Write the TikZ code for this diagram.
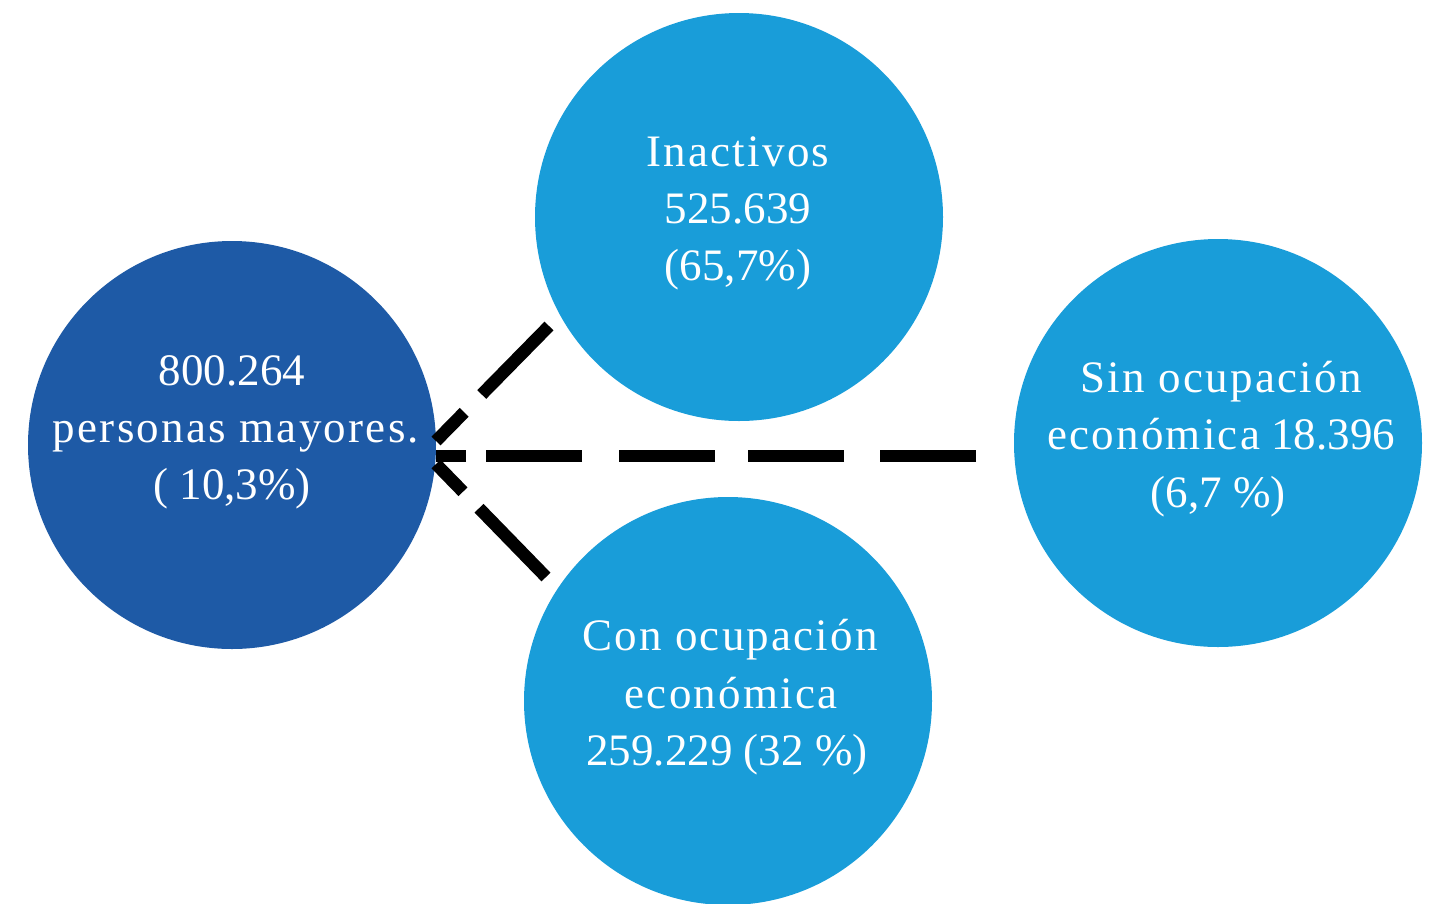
\documentclass[tikz,border=0pt]{standalone}
\usepackage{fontspec}
\setmainfont{Liberation Serif}
\newfontfamily\widefont[LetterSpace=5]{Liberation Serif}
\definecolor{darkblue}{HTML}{1E5AA6}
\definecolor{lightblue}{HTML}{199DD9}
\newcommand{\widetxt}[1]{{\widefont #1}}
\tikzset{
  bubble/.style={circle, minimum size=408pt, inner sep=0pt, draw=none},
  darkbubble/.style={bubble, fill=darkblue},
  lightbubble/.style={bubble, fill=lightblue},
  txt/.style={anchor=base, text=white, inner sep=0pt, font=\fontsize{45}{57}\selectfont},
  link/.style={line width=12.5pt, line cap=butt, black}
}
\begin{document}
\begin{tikzpicture}[x=1pt,y=-1pt]
\useasboundingbox (0,0) rectangle (1438,903);
% circles
\node[darkbubble]  (total) at (232,445) {};
\node[lightbubble] (inact) at (739,217) {};
\node[lightbubble] (sinoc) at (1218,443) {};
\node[lightbubble] (conoc) at (728,701) {};
% texts
\node[txt] (total1) at (232,385) {800.264};
\node[txt] (total2) at (236,442) {\widetxt{personas mayores.}};
\node[txt] (total3) at (232,499) {( 10,3\%)};
\node[txt] (inact1) at (738,166) {\widetxt{Inactivos}};
\node[txt] (inact2) at (738,223) {525.639};
\node[txt] (inact3) at (738,280) {(65,7\%)};
\node[txt] (sinoc1) at (1221,392) {\widetxt{Sin ocupación}};
\node[txt] (sinoc2) at (1221,449) {\widetxt{económica} 18.396};
\node[txt] (sinoc3) at (1218,507) {(6,7 \%)};
\node[txt] (conoc1) at (730,650) {\widetxt{Con ocupación}};
\node[txt] (conoc2) at (731,708) {\widetxt{económica}};
\node[txt] (conoc3) at (727,765) {259.229 (32 \%)};
% connector end points
\coordinate (hubU) at (436,441);
\coordinate (hubM) at (436,456);
\coordinate (hubL) at (436,464);
\coordinate (endU) at (549,326);
\coordinate (endM) at (976,456);
\coordinate (endL) at (546,577);
% connectors
\draw[link, dash pattern=on 96pt off 25pt on 80pt] (endU) -- (hubU);
\draw[link, dash pattern=on 96pt off 23pt on 80pt] (endL) -- (hubL);
\draw[link, dash pattern=on 96pt off 36pt on 96pt off 33pt on 96pt off 37pt on 96pt off 20pt on 60pt] (endM) -- (hubM);
\end{tikzpicture}
\end{document}
